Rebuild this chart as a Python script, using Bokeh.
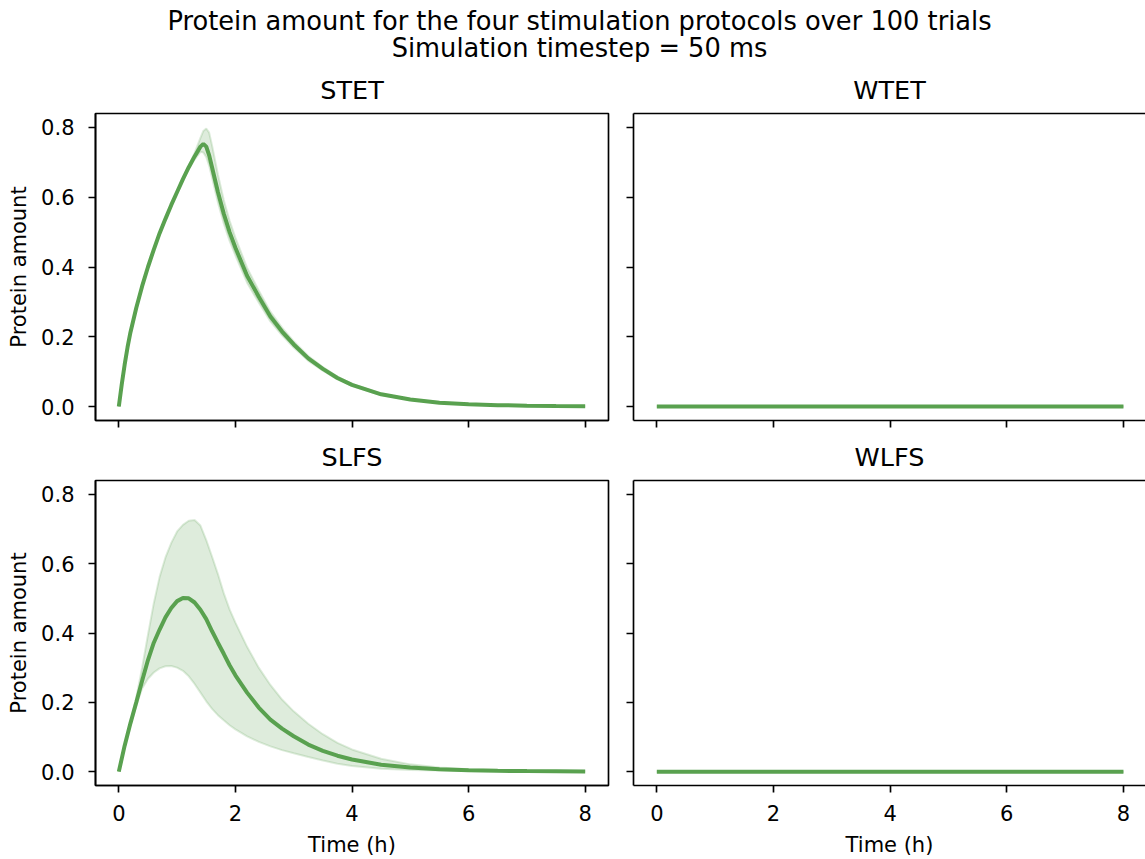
from bokeh.plotting import figure
from bokeh.layouts import column, row
from bokeh.models import Range1d, FixedTicker, PrintfTickFormatter, LinearAxis, Title
from bokeh.embed import file_html
from bokeh.resources import INLINE
from bokeh.core.properties import value

# ---------------- data ----------------
suptitle_lines = ["Protein amount for the four stimulation protocols over 100 trials",
                  "Simulation timestep = 50 ms"]
panel_titles = ["STET", "WTET", "SLFS", "WLFS"]
x_label = "Time (h)"
y_label = "Protein amount"
x_ticks = [0, 2, 4, 6, 8]
y_ticks = [0.0, 0.2, 0.4, 0.6, 0.8]

stet_t = [0, 0.05, 0.1, 0.15, 0.2, 0.3, 0.4, 0.5, 0.6, 0.7, 0.8, 0.9, 1.0, 1.1, 1.2, 1.3, 1.4,
          1.45, 1.5, 1.55, 1.6, 1.7, 1.8, 1.9, 2.0, 2.2, 2.4, 2.6, 2.8, 3.0,
          3.25, 3.5, 3.75, 4.0, 4.5, 5.0, 5.5, 6.0, 6.5, 7.0, 7.5, 8.0]
stet_mean = [0, 0.063, 0.12, 0.17, 0.213, 0.283, 0.345, 0.40, 0.45, 0.497, 0.538, 0.578, 0.615, 0.652,
             0.686, 0.717, 0.745,
             0.753, 0.745, 0.72, 0.685, 0.615, 0.553, 0.50, 0.455, 0.375, 0.315, 0.258, 0.215, 0.178,
             0.138, 0.108, 0.082, 0.062, 0.035, 0.02, 0.011, 0.0065, 0.004, 0.0025, 0.0015, 0.001]
stet_hi = [0, 0.064, 0.121, 0.171, 0.215, 0.285, 0.347, 0.402, 0.452, 0.499, 0.54, 0.58, 0.617, 0.655,
           0.69, 0.727, 0.77,
           0.79, 0.797, 0.785, 0.748, 0.665, 0.592, 0.533, 0.484, 0.398, 0.333, 0.272, 0.226, 0.187,
           0.145, 0.113, 0.086, 0.065, 0.037, 0.021, 0.012, 0.007, 0.0043, 0.0027, 0.0016, 0.001]
stet_lo = [0, 0.062, 0.119, 0.169, 0.211, 0.281, 0.343, 0.398, 0.448, 0.495, 0.536, 0.576, 0.613, 0.649,
           0.682, 0.708, 0.73,
           0.728, 0.715, 0.69, 0.655, 0.585, 0.525, 0.475, 0.433, 0.355, 0.298, 0.244, 0.204, 0.169,
           0.131, 0.103, 0.078, 0.059, 0.033, 0.019, 0.01, 0.006, 0.0037, 0.0023, 0.0014, 0.0009]

slfs_t = [0, 0.1, 0.2, 0.3, 0.4, 0.5, 0.6, 0.7, 0.8, 0.9, 1.0, 1.1, 1.2, 1.3, 1.4, 1.5, 1.6, 1.7, 1.8, 1.9, 2.0,
          2.2, 2.4, 2.6, 2.8, 3.0, 3.25, 3.5, 3.75, 4.0, 4.5, 5.0, 5.5, 6.0, 6.5, 7.0, 7.5, 8.0]
slfs_mean = [0, 0.075, 0.14, 0.2, 0.262, 0.322, 0.372, 0.41, 0.445, 0.472, 0.492, 0.501, 0.500, 0.488, 0.467,
             0.44, 0.405, 0.372, 0.34, 0.307, 0.278,
             0.228, 0.185, 0.15, 0.124, 0.102, 0.078, 0.06, 0.046, 0.035, 0.02, 0.012, 0.007, 0.004,
             0.0025, 0.0015, 0.001, 0.0005]
slfs_hi = [0, 0.075, 0.142, 0.215, 0.30, 0.395, 0.486, 0.562, 0.618, 0.66, 0.693, 0.712, 0.724, 0.726, 0.71,
           0.668, 0.62, 0.57, 0.515, 0.468, 0.43,
           0.36, 0.30, 0.25, 0.208, 0.174, 0.138, 0.108, 0.083, 0.064, 0.037, 0.021, 0.012, 0.007,
           0.0045, 0.003, 0.002, 0.001]
slfs_lo = [0, 0.075, 0.138, 0.19, 0.24, 0.268, 0.286, 0.298, 0.304, 0.305, 0.3, 0.291, 0.275, 0.253, 0.228,
           0.203, 0.181, 0.163, 0.148, 0.134, 0.122,
           0.102, 0.086, 0.073, 0.062, 0.053, 0.042, 0.032, 0.023, 0.016, 0.008, 0.005, 0.003, 0.002,
           0.0012, 0.0008, 0.0005, 0.0003]

wtet_t = [0, 8]
wtet_mean = [0.0, 0.0]
wtet_hi = [0.0, 0.0]
wtet_lo = [0.0, 0.0]

wlfs_t = [0, 8]
wlfs_mean = [0.0, 0.0]
wlfs_hi = [0.0, 0.0]
wlfs_lo = [0.0, 0.0]

# ---------------- style ----------------
GREEN = "#59a14f"
FONT = "DejaVu Sans"
LW = 1.67
TICK_FS = "21px"
TITLE_FS = "25.5px"
SUP_FS = "25.7px"


def style_axis(ax, labels):
    ax.axis_line_color = "black"
    ax.axis_line_width = LW
    ax.major_tick_line_color = "black"
    ax.major_tick_line_width = LW
    ax.major_tick_out = 7
    ax.major_tick_in = 0
    ax.minor_tick_line_color = None
    ax.major_label_text_font = FONT
    ax.major_label_text_font_size = TICK_FS
    ax.major_label_text_color = "black" if labels else None
    ax.axis_label_text_font = FONT
    ax.axis_label_text_font_size = TICK_FS
    ax.axis_label_text_font_style = "normal"
    ax.axis_label_text_color = "black"


def panel(name, t, mean, lo, hi, width, height, bl, br, bt, bb, xr,
          xlabels, ylabels, outline):
    p = figure(width=width, height=height, x_range=Range1d(*xr), y_range=Range1d(-0.04, 0.84),
               output_backend="svg", toolbar_location=None, title=None,
               min_border_left=bl, min_border_right=br, min_border_top=bt, min_border_bottom=bb)
    p.xgrid.visible = False
    p.ygrid.visible = False
    p.background_fill_color = "white"
    p.border_fill_color = "white"

    xa = p.below[0]
    ya = p.left[0]
    style_axis(xa, xlabels)
    style_axis(ya, ylabels)
    xa.ticker = FixedTicker(ticks=x_ticks)
    ya.ticker = FixedTicker(ticks=y_ticks)
    xa.formatter = PrintfTickFormatter(format="%d")
    ya.formatter = PrintfTickFormatter(format="%.1f")
    if xlabels:
        xa.major_label_standoff = 12
        xa.axis_label = x_label
        xa.axis_label_standoff = 9
    else:
        xa.major_label_standoff = 0
    if ylabels:
        ya.major_label_standoff = 14
        ya.axis_label = y_label
        ya.axis_label_standoff = 7
    else:
        ya.major_label_standoff = 0

    if outline:
        p.outline_line_color = "black"
        p.outline_line_width = LW
        p.outline_line_alpha = 1.0
    else:
        p.outline_line_color = None
        top = LinearAxis(ticker=FixedTicker(ticks=[]), axis_line_color="black", axis_line_width=LW,
                         major_tick_line_color=None, minor_tick_line_color=None,
                         major_label_text_color=None, major_label_standoff=0)
        p.add_layout(top, "above")

    p.add_layout(Title(text=name, align="center", text_font=FONT, text_font_size=TITLE_FS,
                       text_font_style="normal", text_color="black", standoff=17), "above")

    p.varea(x=t, y1=lo, y2=hi, fill_color=GREEN, fill_alpha=0.2)
    p.line(t, lo, line_color=GREEN, line_alpha=0.2, line_width=2)
    p.line(t, hi, line_color=GREEN, line_alpha=0.2, line_width=2)
    p.line(t, mean, line_color=GREEN, line_width=4)
    return p


W_L, W_R = 620, 525
H_HEAD, H_TOP, H_BOT = 62, 368, 429
XR_L = (-0.4, 8.4)
XR_R = (-0.4, 8.378)

tl = panel(panel_titles[0], stet_t, stet_mean, stet_lo, stet_hi, W_L, H_TOP, 95, 12, 51, 10, XR_L,
           False, True, True)
tr = panel(panel_titles[1], wtet_t, wtet_mean, wtet_lo, wtet_hi, W_R, H_TOP, 13, 0, 51, 10, XR_R,
           False, False, False)
bl = panel(panel_titles[2], slfs_t, slfs_mean, slfs_lo, slfs_hi, W_L, H_BOT, 95, 12, 50, 73, XR_L,
           True, True, True)
br = panel(panel_titles[3], wlfs_t, wlfs_mean, wlfs_lo, wlfs_hi, W_R, H_BOT, 13, 0, 50, 73, XR_R,
           True, False, False)

head = figure(width=1145, height=H_HEAD, x_range=Range1d(0, 1145), y_range=Range1d(0, H_HEAD),
              output_backend="svg", toolbar_location=None, title=None, min_border=0,
              x_axis_type=None, y_axis_type=None)
head.outline_line_color = None
head.background_fill_color = "white"
head.border_fill_color = "white"
head.text(x=[579, 579], y=[H_HEAD - 20, H_HEAD - 47], text=suptitle_lines,
          text_font=value(FONT), text_font_size=SUP_FS, text_align="center",
          text_baseline="middle", text_color="black")

layout = column(head, row(tl, tr), row(bl, br))
open("out.html", "w").write(file_html(layout, INLINE))
